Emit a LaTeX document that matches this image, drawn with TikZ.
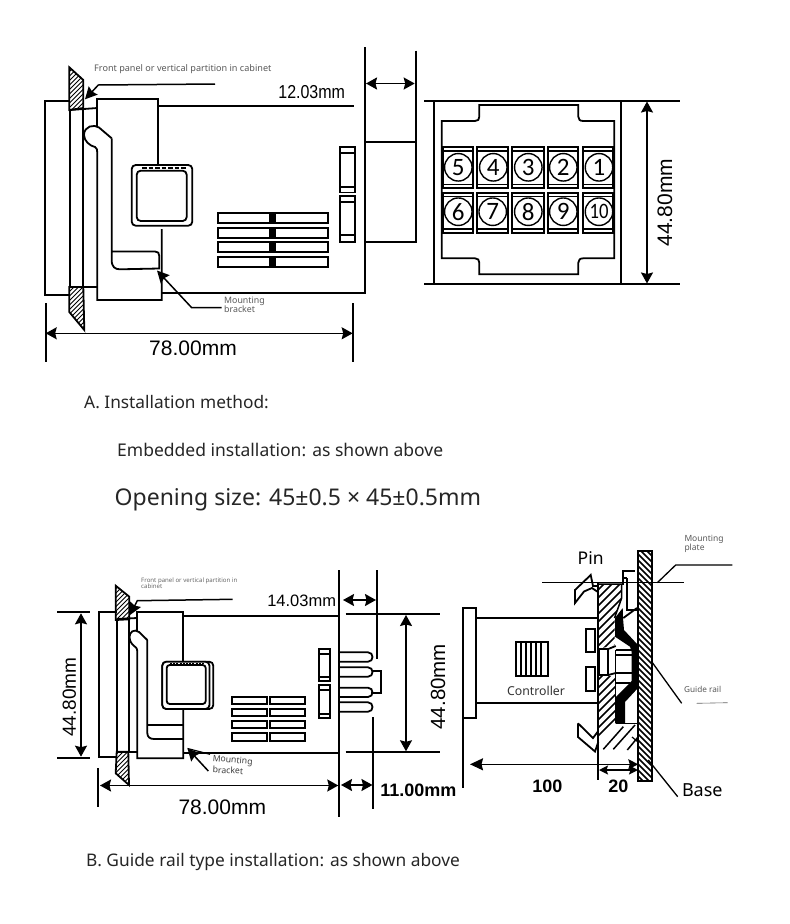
\documentclass[tikz,border=0pt]{standalone}
\usepackage{fontspec}
\usepackage{graphicx}
\setmainfont{Noto Sans}
\newfontfamily\arl{Liberation Sans}
\newfontfamily\crl{Carlito}
\usetikzlibrary{arrows.meta}
\newcommand{\fsz}[1]{\fontsize{#1}{#1}\selectfont}
\newcommand{\hatchR}[5]{% polygon, from, next, to, width : lines like /
  \begin{scope}\clip #1;
  \foreach \k in {#2,#3,...,#4} \draw[line width=#5] (\k-924,924) -- (\k,0);
  \end{scope}}
\newcommand{\hatchL}[5]{% lines like \
  \begin{scope}\clip #1;
  \foreach \k in {#2,#3,...,#4} \draw[line width=#5] (\k,0) -- (\k+900,900);
  \end{scope}}
\tikzset{
  ln/.style={line width=1.8pt,black},
  thin line/.style={line width=1.1pt,black},
  dim/.style={line width=1.6pt,{Stealth[length=11pt,width=12pt,inset=1.5pt]}-{Stealth[length=11pt,width=12pt,inset=1.5pt]}},
  lead/.style={line width=1.5pt,-{Stealth[length=12pt,width=12pt,inset=1.5pt]}},
  txt/.style={inner sep=0pt,text=black},
  cap text/.style={inner sep=0pt,anchor=west,text=black!85},
  small note/.style={inner sep=0pt,anchor=west,text=black!65,align=left},
  wbox/.style={ln,fill=white},
  circ/.style={circle,draw,line width=1.4pt,fill=white,minimum size=27.5pt,inner sep=0pt,font=\crl\fsz{25}},
}
\begin{document}
\begin{tikzpicture}[x=1pt,y=-1pt,line join=miter]
\useasboundingbox (0,0) rectangle (790,924);
\fill[white] (0,0) rectangle (790,924);

%% ---------- Top-left diagram
\draw[ln] (70,101) -- (45,101) -- (45,295) -- (70,295);
\draw[ln] (70,110) -- (70,287) (83.3,108) -- (83.3,287);
\draw[ln] (70,110) -- (97.3,108) (70,287) -- (97.3,287);
\def\pa{(69.3,67.3) -- (83.3,80) -- (83.3,108) -- (69.3,110) -- cycle}
\hatchR{\pa}{132}{136.5}{200}{1pt}
\draw[ln] \pa;
\def\pb{(69.3,287) -- (83.3,287) -- (84.3,330) -- (69.3,312) -- cycle}
\hatchR{\pb}{352}{356.5}{420}{1pt}
\draw[ln] \pb;
\draw[ln] (158,165) -- (158,99.3) -- (97.3,99.3) -- (97.3,127);
\draw[ln] (158,106) -- (354,106);
\draw[ln] (161.7,292.7) -- (365,292.7) -- (365,46.7);
\draw[ln] (415.7,50.7) -- (415.7,241.7) -- (365,241.7) (365,142.3) -- (415.7,142.3);
\draw[ln] (111.7,138.3) -- (99,127.5) .. controls (94,124) and (84,126) .. (84,135)
  .. controls (84,141) and (90,146) .. (95,147) .. controls (97,148) and (97.3,150) .. (97.3,153)
  -- (97.3,300) -- (161.7,300) -- (161.7,229);
\draw[ln] (111.7,138.3) -- (111.7,260) .. controls (111.7,267) and (115,269.3) .. (120,269.3)
  -- (159.3,268.5) -- (159.3,256) .. controls (159.3,253) and (158,251.5) .. (155,251.5) -- (111.7,251.5);
% square
\draw[wbox,rounded corners=4pt] (131.7,165) rectangle (192.3,225.7);
\draw[wbox,rounded corners=4pt] (136.7,170.7) rectangle (186.7,221);
\draw[line width=2.2pt,dash pattern=on 4.5pt off 2pt] (142,167.8) -- (186,167.8);
% grill
\foreach \ya/\yb in {213.3/222.7,227.7/237.7,242.3/251.7,256.7/266.7}{
  \draw[ln] (217.7,\ya) rectangle (327.7,\yb);
  \fill (269.3,\ya) rectangle (276,\yb);
}
% slots
\draw[ln] (340.3,146.7) rectangle (355,192.4) (340.3,152.7) -- (355,152.7) (340.3,186.7) -- (355,186.7);
\draw[ln] (340.3,195.8) rectangle (355,241.7) (340.3,201.7) -- (355,201.7) (340.3,235) -- (355,235);
% leaders
\coordinate (pa1) at (215,84); \coordinate (pa2) at (98.3,85); \coordinate (pa3) at (85,99.3);
\draw[lead] (pa1) -- (pa2) -- (pa3);
\coordinate (mb1) at (221.7,307.7); \coordinate (mb2) at (191.7,307.7); \coordinate (mb3) at (157,270.5);
\draw[lead] (mb1) -- (mb2) -- (mb3);
\node[small note,font=\fsz{9.1}] (frontA) at (94,69) {Front panel or vertical partition in cabinet};
\node[small note,font=\fsz{8.8}] (mbA) at (224,306) {\begin{tabular}{@{}l@{}}Mounting\\[-0.5pt]bracket\end{tabular}};
% dims
\coordinate (dA1) at (45.7,333.3); \coordinate (dA2) at (352.7,333.3);
\draw[ln] (45.7,303.3) -- (45.7,361.7) (352.7,303.3) -- (352.7,361.7);
\draw[dim] (dA1) -- (dA2);
\node[txt,font=\arl\fsz{21}] (l78a) at (193,348) {78.00mm};
\coordinate (dB1) at (366,83.5); \coordinate (dB2) at (414.7,83.5);
\draw[dim] (dB1) -- (dB2);
\node[txt,font=\arl\fsz{16}] (l12) at (311.7,92) {\scalebox{1}[1.17]{12.03mm}};

%% ---------- Top-right diagram (terminals)
\draw[ln] (424,100.7) -- (680,100.7) (424,284.3) -- (680,284.3);
\draw[ln] (434.3,100.7) -- (434.3,284.3) (621.3,100.7) -- (621.3,284.3);
\coordinate (dC1) at (647,101.5); \coordinate (dC2) at (647,283.5);
\draw[dim] (dC1) -- (dC2);
\node[txt,font=\arl\fsz{21},rotate=90] (l44a) at (665,202.7) {44.80mm};
\draw[ln] (441.7,121) -- (475,121) .. controls (478,121) and (479.3,119.5) .. (479.3,116.7) -- (479.3,105)
  -- (578.3,105) -- (578.3,116.7) .. controls (578.3,119.5) and (580,121) .. (583.3,121) -- (614.3,121)
  -- (614.3,258.3) -- (583.3,258.3) .. controls (580,258.3) and (578.3,260) .. (578.3,262.7) -- (578.3,274.3)
  -- (479.3,274.3) -- (479.3,262.7) .. controls (479.3,260) and (478,258.3) .. (475,258.3) -- (441.7,258.3) -- cycle;
\foreach \xa/\xb/\cx/\n in {442.7/473.3/458.3/5,477.3/508.3/493.3/4,512.3/544/528.3/3,547.7/578.3/563.3/2,582.7/613.3/599/1}{
  \draw[ln,fill=white] (\xa,147.3) rectangle (\xb,188.3);
  \draw[thin line] (\xa,151) -- (\xb,151) (\xa,184.3) -- (\xb,184.3);
  \node[circ] (t\n) at (\cx,167.3) {\n};
}
\foreach \xa/\xb/\cx/\n in {442.7/473.3/458.3/6,477.3/508.3/492.7/7,512.3/544/528.3/8,547.7/578.3/563.3/9}{
  \draw[ln,fill=white] (\xa,192.7) rectangle (\xb,232.7);
  \draw[thin line] (\xa,196.7) -- (\xb,196.7) (\xa,229) -- (\xb,229);
  \node[circ] (t\n) at (\cx,211.7) {\n};
}
\draw[ln,fill=white] (582.7,192.7) rectangle (613.3,232.7);
\draw[thin line] (582.7,196.7) -- (613.3,196.7) (582.7,229) -- (613.3,229);
\node[circ,font=\crl\fsz{22}] (t10) at (599,211.7) {\scalebox{0.85}[1]{10}};

%% ---------- Captions
\node[cap text,font=\fsz{17.3}] (capA) at (84,402) {A. Installation method:};
\node[cap text,font=\fsz{17.5}] (capE) at (117,450) {Embedded installation: as shown above};
\node[cap text,font=\fsz{23}] (capO) at (114.5,500) {Opening size: 45±0.5 × 45±0.5mm};
\node[cap text,font=\fsz{17.35}] (capB) at (86,862) {B. Guide rail type installation: as shown above};

%% ---------- Bottom-left diagram
\draw[ln] (116.7,612.3) -- (99.3,612.3) -- (99.3,756.7) -- (116.7,756.7);
\draw[ln] (116.7,620) -- (116.7,752) (129.3,619) -- (129.3,752);
\draw[ln] (116.7,619) -- (137.3,618) (116.7,752) -- (137.3,752);
\def\pc{(115.7,585.7) -- (129.3,596.7) -- (129.3,619.3) -- (115.7,620) -- cycle}
\hatchR{\pc}{700}{704.5}{760}{1pt}
\draw[ln] \pc;
\def\pd{(116.7,751.7) -- (128.3,751.7) -- (129,785) -- (115.7,773.3) -- cycle}
\hatchR{\pd}{866}{870.5}{920}{1pt}
\draw[ln] \pd;
\draw[ln] (183.3,661.7) -- (183.3,611.7) -- (137.3,611.7) -- (137.3,632);
\draw[ln] (147.3,640) -- (139,632) .. controls (134,628.5) and (129.5,632) .. (129.5,637)
  .. controls (129.5,643) and (134,646) .. (136,647.5) .. controls (137,648.5) and (137.3,650) .. (137.3,652)
  -- (137.3,758.3) -- (183.3,758.3) -- (183.3,708.3);
\draw[ln] (147.3,640) -- (147.3,733) .. controls (147.3,737) and (150,739) .. (154,739) -- (183.3,739);
\draw[ln] (147.3,725) -- (183.3,725);
\draw[ln] (183.3,616) -- (338.3,616) (183.3,753.3) -- (338.3,753.3);
\draw[wbox,rounded corners=4pt] (162.3,661.7) rectangle (213.3,709);
\draw[wbox,rounded corners=4pt] (162.3,661.7) rectangle (209.5,709);
\draw[wbox,rounded corners=3pt] (166.7,665) rectangle (205.7,704);
\draw[line width=1.4pt,dash pattern=on 2pt off 1.2pt] (170,663.4) -- (204,663.4);
\foreach \ya/\yb in {697.3/704,709.3/716,721.3/728.3,733.3/740.7}{
  \draw[ln] (232.3,\ya) rectangle (266.7,\yb);
  \draw[ln] (270,\ya) rectangle (305,\yb);
}
\draw[ln] (319,649) rectangle (330,681) (319,654.3) -- (330,654.3) (319,677) -- (330,677);
\draw[ln] (319,685) rectangle (330,718.3) (319,689.8) -- (330,689.8) (319,714.3) -- (330,714.3);
% pins
\foreach \ya/\yb in {652.3/661.7,667.3/676.7,687.7/697,702.3/711.7}{
  \draw[ln] (339.3,\ya) -- (368,\ya) .. controls (374,\ya) and (374,\yb) .. (368,\yb) -- (339.3,\yb);
}
\draw[ln] (372,670.7) -- (380.7,670.7) -- (380.7,692.7) -- (371,692.7);
% verticals and dims
\draw[ln] (339.3,570) -- (339.3,816.7);
\draw[ln] (377,570) -- (377,659.3);
\draw[ln] (373.3,717.3) -- (373.3,809.3);
\draw[ln] (345.7,614) -- (440,614) (345.7,752.3) -- (440,752.3);
\draw[ln] (57.3,612.3) -- (90,612.3) (57.3,757.7) -- (90,757.7);
\draw[ln] (97.7,768.3) -- (97.7,807.3);
\coordinate (dD1) at (406,615); \coordinate (dD2) at (406,751.3);
\draw[dim] (dD1) -- (dD2);
\coordinate (dE1) at (81,613.3); \coordinate (dE2) at (81,756.7);
\draw[dim] (dE1) -- (dE2);
\coordinate (dF1) at (100,785.5); \coordinate (dF2) at (338.3,785.5);
\draw[dim] (dF1) -- (dF2);
\coordinate (dG1) at (343,600); \coordinate (dG2) at (376,600);
\draw[dim] (dG1) -- (dG2);
\coordinate (dH1) at (341,785); \coordinate (dH2) at (372.5,785);
\draw[dim] (dH1) -- (dH2);
\node[txt,font=\arl\fsz{16.5}] (l14) at (301.7,600.7) {14.03mm};
\node[txt,font=\arl\fsz{19},rotate=90] (l44b) at (69.3,697.3) {44.80mm};
\node[txt,font=\arl\fsz{20.5},rotate=90] (l44c) at (438,686.7) {44.80mm};
\node[txt,font=\arl\fsz{21}] (l78b) at (222.3,807.3) {78.00mm};
\node[txt,font=\arl\bfseries\fsz{18}] (l11) at (418.3,790.7) {11.00mm};
% leaders
\coordinate (pc1) at (232.7,599.3); \coordinate (pc2) at (137.3,600.7); \coordinate (pc3) at (130,615);
\draw[lead] (pc1) -- (pc2) -- (pc3);
\coordinate (mc1) at (208.3,771); \coordinate (mc2) at (187.5,748.5); \coordinate (mc3) at (210,754.3);
\draw[lead] (mc1) -- (mc2);
\draw[line width=1.2pt] (mc2) -- (mc3);
\node[small note,font=\fsz{6.1},text=black!60] (frontB) at (141,584) {\begin{tabular}{@{}l@{}}Front panel or vertical partition in\\[-1pt]cabinet\end{tabular}};
\node[small note,font=\fsz{8.7},text=black!75,rotate=-5] (mbB1) at (212.5,759) {Mounting};
\node[small note,font=\fsz{8.7},text=black!75,rotate=-3] (mbB2) at (212.5,769.5) {bracket};

%% ---------- Bottom-right diagram (rail)
\draw[ln] (462.7,607.7) rectangle (476,717.7);
\draw[ln] (476,618.3) -- (598.3,618.3) (476,703) -- (598.3,703);
\draw[ln] (462.7,717.7) -- (462.7,788.3);
\draw[ln] (516,642.3) rectangle (548.3,675.7);
\foreach \x in {521,526,531,536,541} \draw[line width=1.3pt] (\x,642.3) -- (\x,675.7);
\node[inner sep=0pt,font=\fsz{12.3},text=black!80] (ctrl) at (536,690.7) {Controller};
\draw[ln] (585.7,629.3) rectangle (595,652) (585.7,667.3) rectangle (595,690.7);
% hatched body
\def\pe{(598.3,584) -- (621.7,584) -- (621.7,598) -- (614.5,618) -- (614.5,645) -- (598.3,649) -- cycle}
\hatchR{\pe}{1180}{1188}{1290}{1.7pt}
\draw[line width=1.5pt] (598.3,584) -- (621.7,584) -- (621.7,598) -- (614.5,618);
\def\pf{(598.3,676) -- (615.7,676) -- (615.7,724) -- (598.3,742) -- cycle}
\hatchR{\pf}{1270}{1278}{1360}{1.7pt}
\draw[line width=1.5pt] (615.7,650) -- (615.7,723.3);
% sparse lower hatch
\draw[line width=1.5pt] (603.3,749.3) -- (623.3,726.7) (613.3,749.3) -- (635,725) (627.3,750) -- (638.3,736.7);
\draw[line width=1.2pt] (632,737) -- (638,742);
\draw[line width=1.5pt] (615.7,723.5) -- (638,723.5);
% middle block
\draw[ln] (599.3,649.3) rectangle (608.3,675);
\draw[ln] (608.3,649) -- (615.7,646) (608.3,675) -- (615.7,673);
\draw[ln] (615.7,650) -- (632,650) (615.7,655) -- (632,655) (615.7,673.3) -- (632,673.3) (615.7,683.3) -- (630,683.3);
% upper bracket
\draw[ln] (622.7,585) -- (622.7,570.7) -- (635,570.7);
\draw[ln] (626.7,578) -- (626.7,610) -- (637,610) (622.7,578) -- (626.7,578);
\draw[ln] (623.3,618) -- (637,608);
% rail
\fill (622.7,608) -- (615,618) -- (615,636.7) -- (630,646.7) -- (631.7,652) -- (631.7,681) -- (615,698) -- (615,723.3)
  -- (625,723.3) -- (625,702) -- (638,688) -- (638,645) -- (624,630) -- (623,618) -- cycle;
% plate
\def\pg{(638,551) rectangle (651.7,781)}
\hatchL{\pg}{-150}{-144}{110}{1.6pt}
\draw[ln] \pg;
% pins
\draw[ln] (598,586) -- (593,586) -- (590.7,575) -- (575,590) -- (575,603) -- (584,591.5) -- (592,588) -- (598,592);
\draw[ln] (578,723.3) -- (578,737) -- (595,751.5) -- (598.3,742);
\draw[ln] (578,723.3) -- (593,738) -- (598.3,731);
% long lines
\draw[ln] (598.3,583.3) -- (598.3,780);
\draw[line width=1.3pt] (542.3,582.7) -- (684,582.7);
\coordinate (mp1) at (657.3,582.7); \coordinate (mp2) at (675.7,565); \coordinate (mp3) at (732.3,565);
\draw[line width=1.3pt] (mp1) -- (mp2) -- (mp3);
\coordinate (gr1) at (651.7,661.7); \coordinate (gr2) at (681.7,703.3);
\draw[line width=1.3pt] (gr1) -- (gr2);
\coordinate (gr3) at (696.7,703.3); \coordinate (gr4) at (727.7,702.7);
\draw[line width=0.6pt,black!60] (gr3) -- (gr4);
\coordinate (ba1) at (648.3,760); \coordinate (ba2) at (677.7,796.7);
\draw[line width=1.3pt] (ba1) -- (ba2);
% dims
\coordinate (dI1) at (470,764.3); \coordinate (dI2) at (638.3,764.3);
\draw[line width=1.5pt,{Stealth[length=13pt,width=12pt,inset=1.5pt]}-{Stealth[length=10pt,width=10pt,inset=1.5pt]}] (dI1) -- (dI2);
\coordinate (dJ1) at (599,770); \coordinate (dJ2) at (638,770);
\draw[line width=1.5pt,{Stealth[length=9pt,width=9pt,inset=1.5pt]}-{Stealth[length=9pt,width=9pt,inset=1.5pt]}] (dJ1) -- (dJ2);
\node[txt,font=\arl\bfseries\fsz{18}] (l100) at (547.3,786.7) {100};
\node[txt,font=\arl\bfseries\fsz{18}] (l20) at (618.3,786.7) {20};
\node[txt,font=\fsz{18}] (base) at (702.3,790) {Base};
\node[txt,font=\fsz{17.5}] (pin) at (590.7,558) {Pin};
\node[small note,font=\fsz{8.2}] (gr) at (684,689.3) {Guide rail};
\node[small note,font=\fsz{8.5}] (mp) at (684.3,544) {\begin{tabular}{@{}l@{}}Mounting\\[-0.5pt]plate\end{tabular}};
\end{tikzpicture}
\end{document}
